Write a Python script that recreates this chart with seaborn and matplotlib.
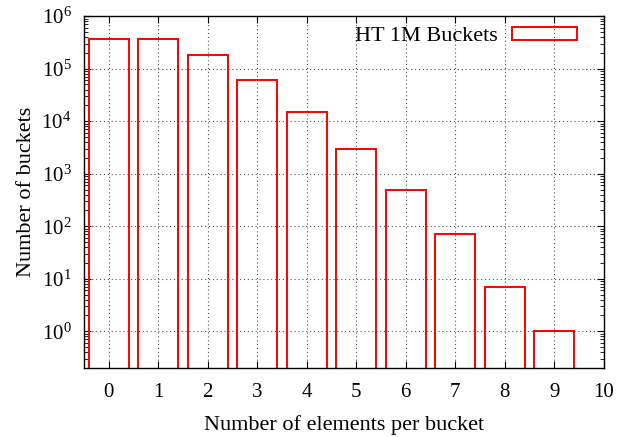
import numpy as np
import pandas as pd
import matplotlib
matplotlib.use("Agg")
import matplotlib.pyplot as plt
import seaborn as sns

# 要素数ごとのバケット数
elements = [0, 1, 2, 3, 4, 5, 6, 7, 8, 9]
buckets = [367000, 366000, 183000, 60000, 15000, 3000, 500, 70, 7, 1]
series_label = "HT 1M Buckets"
x_ticks = list(range(0, 11))
y_ticks = [1e0, 1e1, 1e2, 1e3, 1e4, 1e5, 1e6]

df = pd.DataFrame({"elements": elements, "buckets": buckets})

sns.set_style("ticks", {"text.color": "black", "axes.labelcolor": "black",
                        "xtick.color": "black", "ytick.color": "black",
                        "axes.edgecolor": "black"})
plt.rcParams["font.family"] = ["Liberation Serif", "DejaVu Serif"]
plt.rcParams["mathtext.fontset"] = "custom"
plt.rcParams["mathtext.rm"] = "Liberation Serif"
plt.rcParams["mathtext.it"] = "Liberation Serif:italic"

fig, ax = plt.subplots(figsize=(6.18, 4.37), dpi=100)
fig.subplots_adjust(left=0.136, right=0.977, top=0.963, bottom=0.158)

sns.barplot(data=df, x="elements", y="buckets", ax=ax, fill=False,
            color="red", edgecolor="red", linewidth=1.4, width=0.8,
            label=series_label, log_scale=(False, True), order=elements,
            native_scale=True)

ax.set_yscale("log")
ax.set_ylim(0.2, 1e6)
ax.set_xlim(-0.5, 10)
ax.set_xticks(x_ticks)
ax.set_xticklabels([str(t) for t in x_ticks])
ax.set_yticks(y_ticks)
ax.set_yticklabels([rf"$\mathrm{{10}}^{{{int(np.log10(v))}}}$" for v in y_ticks])

ax.grid(True, which="major", color="#555555", linestyle=(0, (1, 2.5)), linewidth=0.8)
ax.set_axisbelow(True)
ax.tick_params(which="both", direction="in", top=True, right=True, labelsize=15)
ax.tick_params(axis="x", pad=11)
ax.tick_params(axis="y", pad=9)
ax.tick_params(which="major", length=5)
ax.tick_params(which="minor", length=3)
for s in ax.spines.values():
    s.set_linewidth(1.0)

ax.set_xlabel("Number of elements per bucket", fontsize=16, labelpad=9)
ax.set_ylabel("Number of buckets", fontsize=16, labelpad=4)

ax.legend(loc="upper right", frameon=False, markerfirst=False, fontsize=16,
          handlelength=2.9, handleheight=0.5, handletextpad=0.65,
          borderaxespad=0, borderpad=0, bbox_to_anchor=(0.948, 0.969))

fig.savefig("out.png", dpi=100)
